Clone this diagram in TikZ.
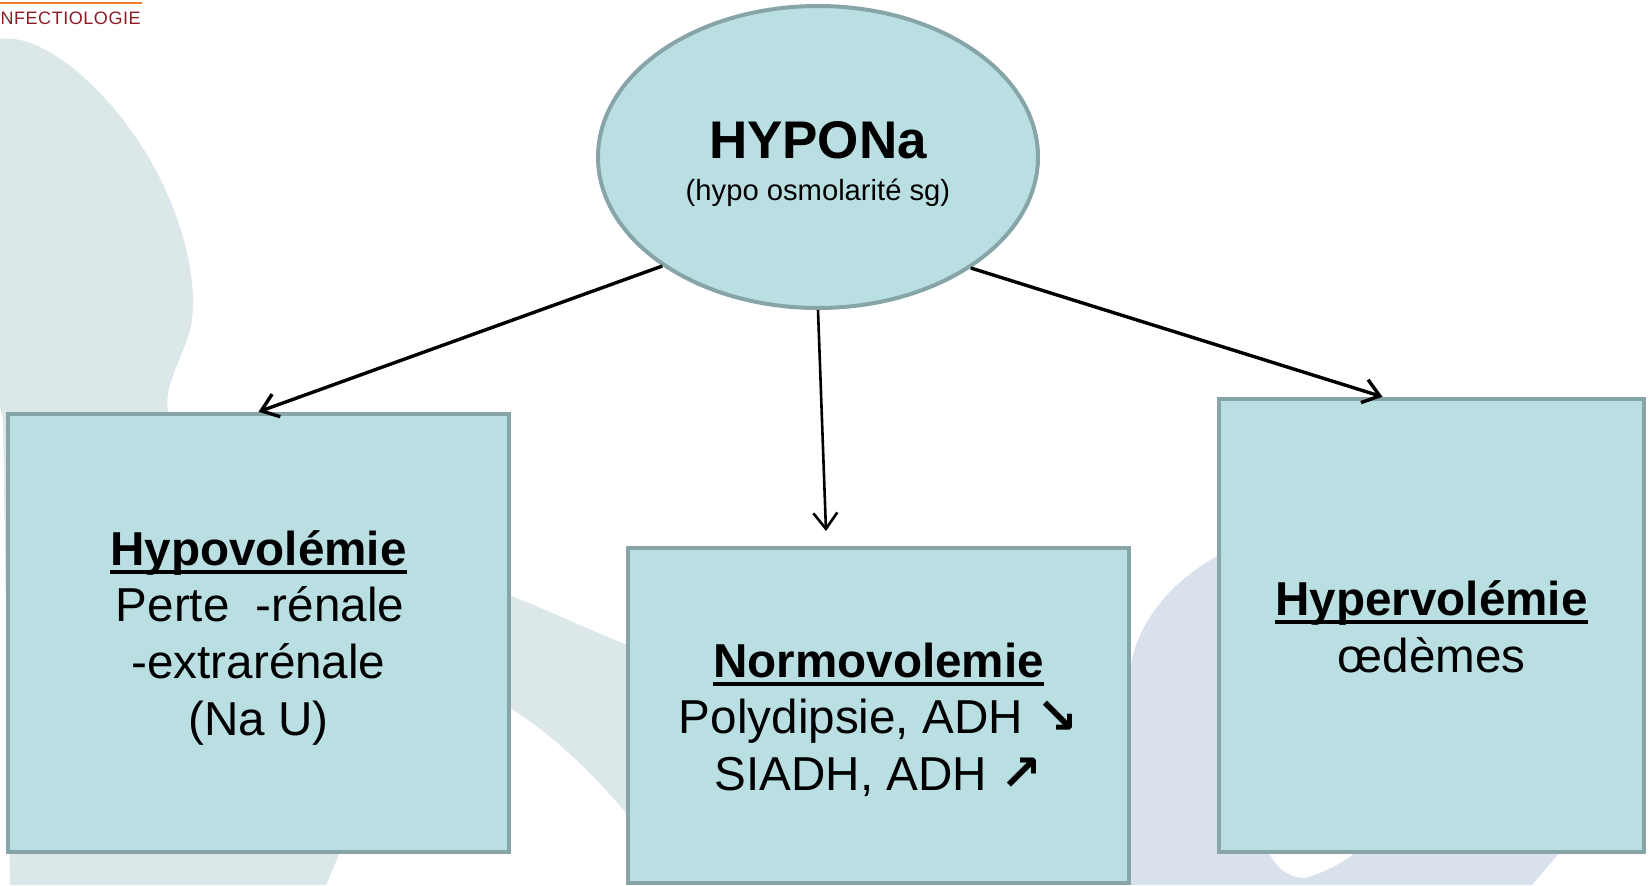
\documentclass[tikz,border=0pt]{standalone}
\usepackage{fontspec}
\setmainfont{Liberation Sans}
\newfontfamily\symfont{DejaVu Sans}
\usetikzlibrary{shapes.geometric,arrows.meta,calc}
\definecolor{boxfill}{HTML}{BADFE3}
\definecolor{boxline}{HTML}{87A5A8}
\definecolor{wmA}{HTML}{DCE7E9}
\definecolor{wmB}{HTML}{D9E2EC}
\definecolor{brandred}{HTML}{8B1C24}
\definecolor{brandorange}{HTML}{F07D2E}
\newcommand\myul[1]{\setbox0\hbox{#1}\rlap{\vrule height -2.5pt depth 4.5pt width \wd0}\box0}
\newcommand\arr[1]{{\symfont\bfseries\fontsize{25}{28}\selectfont #1}}
\begin{document}
\begin{tikzpicture}[x=0.5pt,y=-0.5pt,
  panel/.style={rectangle, draw=boxline, fill=boxfill, line width=2.2pt, inner sep=0pt},
  lbl/.style={anchor=base, inner sep=0pt, font=\fontsize{23.8}{28}\selectfont},
  ttl/.style={lbl, font=\fontsize{23.8}{28}\selectfont\bfseries},
  conn/.style={-{Straight Barb[length=8pt,width=12pt]}, line width=1.7pt, black}]
\path[use as bounding box] (0,0) rectangle (1650,885);
\clip (0,0) rectangle (1650,885);
% watermark shapes
\fill[wmA] (-5,40) .. controls (40,28) and (110,90) .. (150,160)
  .. controls (185,220) and (200,290) .. (190,330)
  .. controls (180,365) and (160,390) .. (170,420)
  -- (300,500) -- (509,595) .. controls (560,615) and (600,635) .. (640,650)
  -- (640,830) .. controls (600,780) and (560,740) .. (509,707)
  -- (340,852) -- (326,885) -- (10,885) -- (3,420) -- (-5,380) -- cycle;
\fill[wmB] (1131,885) -- (1129,680) .. controls (1132,620) and (1180,570) .. (1240,545)
  -- (1600,560) -- (1560,852) -- (1532,885) -- cycle;
\fill[white] (1268,850) .. controls (1275,868) and (1290,878) .. (1305,878)
  .. controls (1325,872) and (1345,862) .. (1358,850) -- cycle;
% header
\draw[brandorange, line width=1pt] (0,3) -- (142,3);
\node[anchor=base east, inner sep=0pt, text=brandred,
  font=\fontsize{9}{10}\selectfont\addfontfeature{LetterSpace=3}] (hdr) at (141,24.5) {NFECTIOLOGIE};
% main shapes
\node[ellipse, draw=boxline, fill=boxfill, line width=2pt, minimum width=220pt,
  minimum height=151pt, inner sep=0pt] (e) at (818,157) {};
\node[anchor=base, inner sep=0pt, font=\fontsize{26.5}{30}\selectfont\bfseries] (et1) at (818,158) {HYPONa};
\node[anchor=base, inner sep=0pt, font=\fontsize{14.6}{16}\selectfont] (et2) at (818,200) {(hypo osmolarité sg)};
\node[panel, minimum width=250.5pt, minimum height=219pt] (b1) at (258.5,633) {};
\node[panel, minimum width=250.5pt, minimum height=167.5pt] (b2) at (878.5,715.5) {};
\node[panel, minimum width=212.5pt, minimum height=226.5pt] (b3) at (1431.5,625.5) {};
% texts box 1
\node[ttl] (b1a) at (258.5,565) {\myul{Hypovolémie}};
\node[lbl] (b1b) at (260,621) {Perte\ \ -rénale};
\node[lbl] (b1c) at (258.5,678) {-extrarénale};
\node[lbl] (b1d) at (258.5,735) {(Na U)};
% texts box 2
\node[ttl] (b2a) at (878.5,677) {\myul{Normovolemie}};
\node[lbl] (b2b) at (878.5,733) {Polydipsie, ADH \arr{↘}};
\node[lbl] (b2c) at (878.5,790) {SIADH, ADH \arr{↗}};
% texts box 3
\node[ttl] (b3a) at (1431.5,615) {\myul{Hypervolémie}};
\node[lbl] (b3b) at (1431.5,672) {œdèmes};
% connectors
\coordinate (m) at (826,531);
\draw[conn] (e.215) -- (b1.north);
\draw[conn, line width=1.3pt] (e.south) -- (m);
\draw[conn] (e.324) -- ($(b3.north)+(-49,0)$);
\end{tikzpicture}
\end{document}
